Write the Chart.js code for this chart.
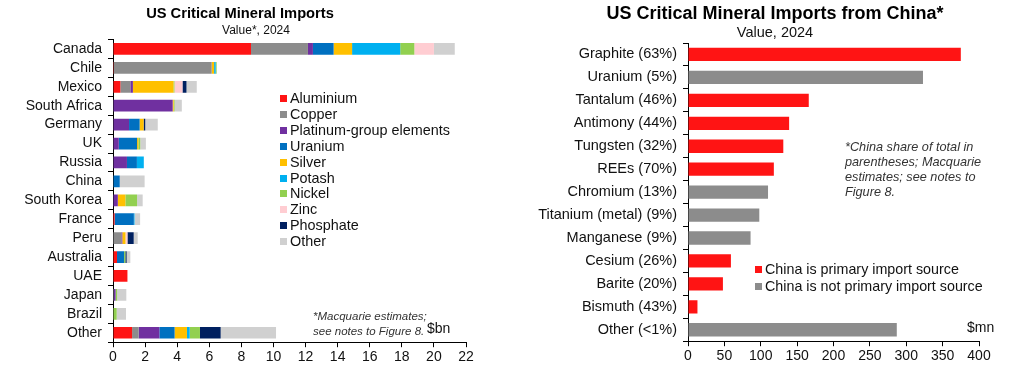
<!DOCTYPE html>
<html>
<head>
<meta charset="utf-8">
<script src="https://cdn.jsdelivr.net/npm/chart.js@4"></script>
<style>
  body { margin: 0; background: #fff; font-family: "Liberation Sans", Arial, sans-serif; }
  #wrap { position: relative; width: 1024px; height: 375px; overflow: hidden; }
  .box { position: absolute; top: 0; height: 375px; }
  .title { position: absolute; width: 400px; text-align: center; font-weight: bold; color: #000; white-space: nowrap; }
  .subtitle { position: absolute; width: 200px; text-align: center; color: #111; white-space: nowrap; }
  .legend { position: absolute; font-size: 14.4px; color: #111; line-height: 15.9px; }
  .legend div { white-space: nowrap; }
  .legend span { display: inline-block; width: 7px; height: 7px; margin-right: 3px; vertical-align: 1px; }
  .note { position: absolute; font-style: italic; font-size: 11.5px; color: #333; line-height: 14.5px; }
  .unit { position: absolute; font-size: 14px; color: #111; }
</style>
</head>
<body>
<div id="wrap">
  <div class="box" style="left:0;width:500px"><canvas id="importsChart" width="500" height="375"></canvas></div>
  <div class="box" style="left:500px;width:524px"><canvas id="chinaChart" width="524" height="375"></canvas></div>

  <div class="title" style="left:40px;top:5px;font-size:14.7px">US Critical Mineral Imports</div>
  <div class="subtitle" style="left:156px;top:23px;font-size:12px">Value*, 2024</div>
  <div class="legend" id="leftLegend" style="left:280px;top:91px"></div>
  <div class="note" style="left:313px;top:309px">*Macquarie estimates;<br>see notes to Figure 8.</div>
  <div class="unit" style="left:427px;top:320px">$bn</div>

  <div class="title" style="left:575px;top:3px;font-size:18px">US Critical Mineral Imports from China*</div>
  <div class="subtitle" style="left:675px;top:24px;font-size:14.5px">Value, 2024</div>
  <div class="note" style="left:845px;top:140px;font-size:12.7px;line-height:15px">*China share of total in<br>parentheses; Macquarie<br>estimates; see notes to<br>Figure 8.</div>
  <div class="legend" id="rightLegend" style="left:755px;top:261px;font-size:14.3px;line-height:17.4px"></div>
  <div class="unit" style="left:967px;top:319px">$mn</div>
</div>

<script>
// Left chart: imports by country, $bn
const countries = ['Canada', 'Chile', 'Mexico', 'South Africa', 'Germany', 'UK', 'Russia', 'China',
    'South Korea', 'France', 'Peru', 'Australia', 'UAE', 'Japan', 'Brazil', 'Other'];

const aluminium = [8.6, 0.05, 0.46, 0, 0, 0, 0, 0, 0, 0.1, 0, 0.25, 0.9, 0, 0, 1.19];
const copper    = [3.55, 6.1, 0.62, 0, 0, 0, 0, 0, 0, 0, 0.52, 0, 0, 0.06, 0, 0.41];
const pge       = [0.31, 0, 0.16, 3.72, 1.0, 0.36, 0.87, 0, 0.3, 0, 0.06, 0, 0, 0.1, 0, 1.29];
const uranium   = [1.29, 0, 0, 0, 0.66, 1.14, 0.62, 0.42, 0, 1.2, 0, 0.44, 0, 0, 0, 0.95];
const silver    = [1.15, 0.15, 2.53, 0.06, 0.25, 0.08, 0, 0, 0.47, 0, 0.2, 0, 0, 0, 0, 0.77];
const potash    = [3.0, 0.1, 0, 0, 0, 0, 0.43, 0, 0, 0.04, 0, 0, 0, 0, 0, 0.17];
const nickel    = [0.88, 0.06, 0.06, 0.06, 0, 0.12, 0, 0, 0.73, 0, 0, 0.08, 0, 0.1, 0.23, 0.64];
const zinc      = [1.22, 0, 0.5, 0, 0, 0, 0, 0, 0, 0, 0.12, 0, 0, 0, 0, 0];
const phosphate = [0, 0, 0.25, 0, 0.1, 0, 0, 0, 0, 0, 0.39, 0.08, 0, 0, 0, 1.29];
const other     = [1.3, 0, 0.64, 0.45, 0.78, 0.35, 0, 1.55, 0.35, 0.35, 0.25, 0.23, 0, 0.57, 0.58, 3.45];

const mineralNames = ['Aluminium', 'Copper', 'Platinum-group elements', 'Uranium', 'Silver',
    'Potash', 'Nickel', 'Zinc', 'Phosphate', 'Other'];
const mineralColors = ['#ff1414', '#8c8c8c', '#7030a0', '#0070c0', '#ffc000',
    '#00b0f0', '#92d050', '#ffcdd2', '#002060', '#d0d0d0'];
const mineralSeries = [aluminium, copper, pge, uranium, silver, potash, nickel, zinc, phosphate, other];

// Right chart: imports from China, $mn
const chinaMinerals = ['Graphite (63%)', 'Uranium (5%)', 'Tantalum (46%)', 'Antimony (44%)',
    'Tungsten (32%)', 'REEs (70%)', 'Chromium (13%)', 'Titanium (metal) (9%)', 'Manganese (9%)',
    'Cesium (26%)', 'Barite (20%)', 'Bismuth (43%)', 'Other (<1%)'];
const chinaValues = [375, 323, 166, 139, 131, 118, 110, 98, 86, 59, 48, 13, 287];
const chinaPrimary = [true, false, true, true, true, true, false, false, false, true, true, true, false];

const FONT = '"Liberation Sans", Arial, sans-serif';
Chart.defaults.font.family = FONT;
Chart.defaults.color = '#111';

function axisOptions(max, step, yWidth, labelSize) {
    return {
        x: {
            stacked: true,
            min: 0,
            max: max,
            ticks: { stepSize: step, font: { size: 14 }, color: '#111', padding: 2, maxRotation: 0 },
            grid: { drawOnChartArea: false, drawTicks: true, tickLength: 5, color: '#000' },
            border: { color: '#000', width: 1 }
        },
        y: {
            stacked: true,
            afterFit: scale => { scale.width = yWidth; },
            ticks: { font: { size: labelSize }, color: '#111', padding: 6, autoSkip: false },
            grid: { drawOnChartArea: false, drawTicks: true, tickLength: 5, color: '#000', offset: true },
            border: { color: '#000', width: 1 }
        }
    };
}

function initCharts() {
    // Imports by country
    new Chart(document.getElementById('importsChart'), {
        type: 'bar',
        data: {
            labels: countries,
            datasets: mineralSeries.map((values, i) => ({
                label: mineralNames[i],
                data: values,
                backgroundColor: mineralColors[i],
                borderWidth: 0,
                categoryPercentage: 0.62,
                barPercentage: 1.0
            }))
        },
        options: {
            indexAxis: 'y',
            responsive: false,
            animation: false,
            layout: { padding: { left: 0, right: 34, top: 39.5, bottom: 7 } },
            scales: axisOptions(22, 2, 113, 14),
            plugins: { legend: { display: false }, tooltip: { enabled: false } }
        }
    });

    // Imports from China
    new Chart(document.getElementById('chinaChart'), {
        type: 'bar',
        data: {
            labels: chinaMinerals,
            datasets: [
                {
                    label: 'China is primary import source',
                    data: chinaValues.map((v, i) => chinaPrimary[i] ? v : null),
                    backgroundColor: '#ff1414',
                    categoryPercentage: 0.58,
                    barPercentage: 1.0
                },
                {
                    label: 'China is not primary import source',
                    data: chinaValues.map((v, i) => chinaPrimary[i] ? null : v),
                    backgroundColor: '#8c8c8c',
                    categoryPercentage: 0.58,
                    barPercentage: 1.0
                }
            ]
        },
        options: {
            indexAxis: 'y',
            responsive: false,
            animation: false,
            layout: { padding: { left: 0, right: 45, top: 43, bottom: 8 } },
            scales: axisOptions(400, 50, 188, 14.5),
            plugins: { legend: { display: false }, tooltip: { enabled: false } }
        }
    });
}

// Legends drawn as html
function buildLegends() {
    const left = document.getElementById('leftLegend');
    mineralNames.forEach((name, i) => {
        const row = document.createElement('div');
        row.innerHTML = `<span style="background:${mineralColors[i]}"></span>${name}`;
        left.appendChild(row);
    });

    const right = document.getElementById('rightLegend');
    [['China is primary import source', '#ff1414'], ['China is not primary import source', '#8c8c8c']].forEach(item => {
        const row = document.createElement('div');
        row.innerHTML = `<span style="background:${item[1]}"></span>${item[0]}`;
        right.appendChild(row);
    });
}

document.addEventListener('DOMContentLoaded', function() {
    initCharts();
    buildLegends();
});
</script>
</body>
</html>
